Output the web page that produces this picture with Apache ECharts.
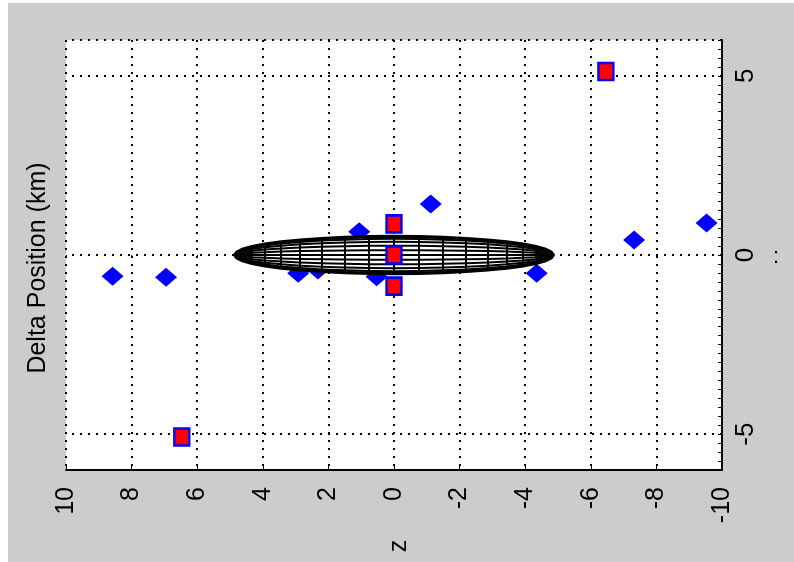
<!DOCTYPE html>
<html>
<head>
<meta charset="utf-8">
<script src="https://cdn.jsdelivr.net/npm/echarts@6/dist/echarts.min.js"></script>
<style>html,body{margin:0;padding:0;background:#fff}#c{width:794px;height:562px}</style>
</head>
<body>
<div id="c"></div>
<script>
// ---- data ----
const xTickValues = [10, 8, 6, 4, 2, 0, -2, -4, -6, -8, -10];
const yTickValues = [-5, 0, 5];
const squareX = [0, 0, 0, -6.46, 6.47];
const squareY = [0.87, 0, -0.87, 5.12, -5.08];
const diamondX = [8.58, 6.95, 2.92, 2.32, 1.06, 0.53, -1.12, -4.35, -7.32, -9.53];
const diamondY = [-0.59, -0.62, -0.51, -0.42, 0.65, -0.61, 1.42, -0.51, 0.42, 0.89];
const ellipsoidCenter = [0, 0];
const ellipsoidRadii = [4.86, 0.52];
const meshRings = 20;
const meshMeridians = 24;
const axisTitleY = 'Delta Position (km)';
const axisTitleX = 'z';

const FONT = 'Liberation Sans';
const chart = echarts.init(document.getElementById('c'));
const dotted = { color: '#000', type: [2, 6], width: 2 };

function meshItem(params, api) {
  const [cx, cy] = ellipsoidCenter;
  const [a, b] = ellipsoidRadii;
  const children = [];
  const outline = [];
  for (let k = 0; k <= 2 * meshRings; k++) {
    const th = Math.PI * k / meshRings;
    outline.push(api.coord([cx + a * Math.cos(th), cy + b * Math.sin(th)]));
  }
  children.push({ type: 'polygon', shape: { points: outline }, style: { fill: '#fff', stroke: '#000', lineWidth: 3, lineJoin: 'miter' } });
  for (let j = 1; j < meshMeridians / 2; j++) {
    const c = Math.cos(2 * Math.PI * j / meshMeridians);
    const pts = [];
    for (let k = 0; k <= meshRings; k++) {
      const th = Math.PI * k / meshRings;
      pts.push(api.coord([cx + a * Math.cos(th), cy + b * Math.sin(th) * c]));
    }
    children.push({ type: 'polyline', shape: { points: pts }, style: { stroke: '#000', lineWidth: 2, fill: null } });
  }
  for (let k = 1; k < meshRings; k++) {
    const th = Math.PI * k / meshRings;
    const x = cx + a * Math.cos(th);
    const h = b * Math.sin(th);
    const p1 = api.coord([x, cy - h]);
    const p2 = api.coord([x, cy + h]);
    children.push({ type: 'line', shape: { x1: Math.round(p1[0]), y1: p1[1], x2: Math.round(p2[0]), y2: p2[1] }, style: { stroke: '#000', lineWidth: 2 } });
  }
  return { type: 'group', children };
}

const option = {
  backgroundColor: '#cccccc',
  animation: false,
  grid: { left: 66, right: 72, top: 40, bottom: 92, show: true, backgroundColor: '#fff', borderWidth: 0 },
  xAxis: [{
    type: 'value', min: -10, max: 10, interval: 2, inverse: true, position: 'bottom',
    axisLine: { show: true, onZero: false, lineStyle: { color: '#000', width: 2 } },
    axisTick: { show: true, inside: true, length: 5, lineStyle: { color: '#000', width: 1 } },
    axisLabel: { rotate: 90, margin: 17, color: '#000', fontFamily: FONT, fontSize: 25,
      formatter: v => xTickValues.includes(v) ? String(v) : '' },
    splitLine: { show: true, lineStyle: dotted }
  }, {
    type: 'value', min: -10, max: 10, interval: 2, inverse: true, position: 'top',
    axisLine: { show: false },
    axisTick: { show: true, inside: true, length: 3, lineStyle: { color: '#000' } },
    axisLabel: { show: false }, splitLine: { show: false }
  }],
  yAxis: {
    type: 'value', min: -6, max: 6, interval: 1, position: 'right',
    axisLine: { show: true, onZero: false, lineStyle: { color: '#000', width: 2 } },
    axisTick: { show: true, inside: true, length: 4, lineStyle: { color: '#000', width: 1 } },
    minorTick: { show: true, splitNumber: 4, length: 4, lineStyle: { color: '#000', width: 1 } },
    axisLabel: { rotate: 90, margin: 11, color: '#000', fontFamily: FONT, fontSize: 26,
      formatter: v => yTickValues.includes(v) ? String(v) : '' },
    splitLine: { show: false }
  },
  graphic: [
    { type: 'rect', left: 0, top: 0, shape: { width: 8, height: 562 }, style: { fill: '#fff' } },
    { type: 'rect', left: 0, top: 0, shape: { width: 794, height: 3 }, style: { fill: '#fff' } },
    { type: 'text', x: 38, y: 268, rotation: Math.PI / 2,
      style: { text: axisTitleY, font: '25px "Liberation Sans"', fill: '#000', align: 'center', verticalAlign: 'middle' } },
    { type: 'text', x: 399, y: 546, rotation: Math.PI / 2,
      style: { text: axisTitleX, font: '25px "Liberation Sans"', fill: '#000', align: 'center', verticalAlign: 'middle' } },
    { type: 'text', x: 776, y: 257,
      style: { text: ':', font: '22px "Liberation Sans"', fill: '#000', align: 'center', verticalAlign: 'middle' } }
  ],
  series: [
    {
      type: 'scatter', name: 'diamonds', z: 2,
      data: diamondX.map((x, i) => [x, diamondY[i]]),
      symbol: 'diamond', symbolSize: [22, 19],
      itemStyle: { color: '#0000ff', opacity: 1 },
      markLine: {
        silent: true, symbol: 'none', label: { show: false }, z: 1,
        lineStyle: dotted,
        data: [6, 5, 0, -5].map(v => ({ yAxis: v }))
      }
    },
    {
      type: 'custom', name: 'ellipsoid', z: 3,
      data: [[ellipsoidCenter[0], ellipsoidCenter[1]]],
      renderItem: meshItem, silent: true
    },
    {
      type: 'scatter', name: 'squares', z: 4,
      data: squareX.map((x, i) => [x, squareY[i]]),
      symbol: 'rect', symbolSize: [15, 17],
      itemStyle: { color: '#ff0000', borderColor: '#0000ff', borderWidth: 2.5, opacity: 1 }
    }
  ]
};
chart.setOption(option);
</script>
</body>
</html>
